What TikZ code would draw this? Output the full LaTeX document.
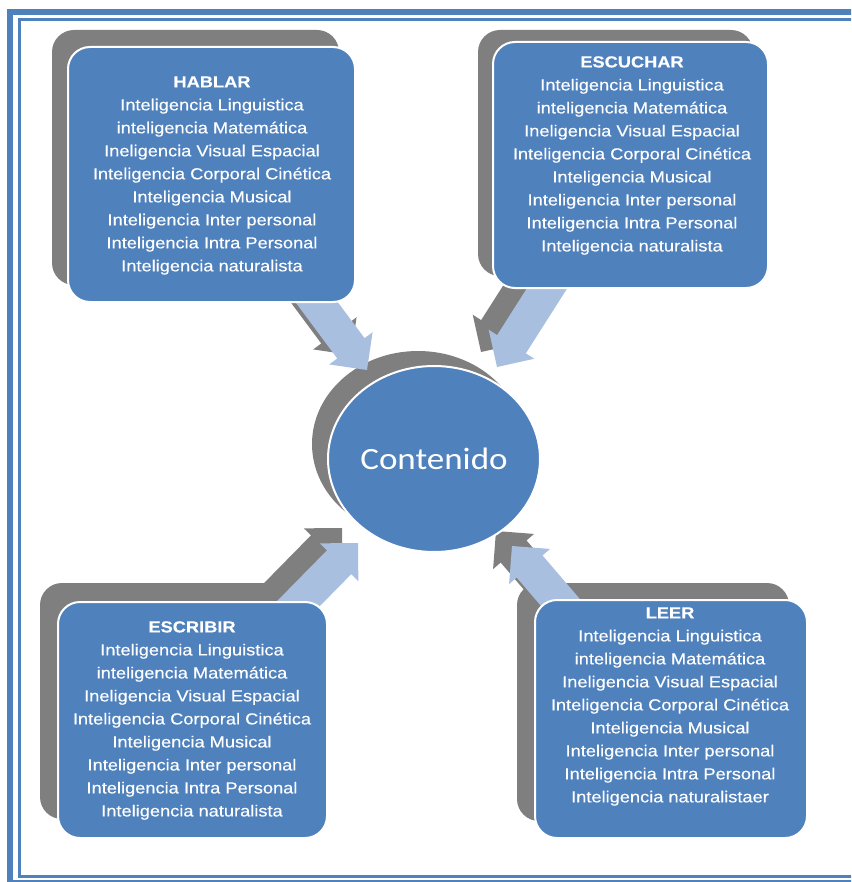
\documentclass[tikz,border=0pt]{standalone}
\usepackage{fontspec}
\usetikzlibrary{calc,shapes.geometric}
\newfontfamily\boxfont[FakeStretch=1.14,FakeBold=0.3]{Liberation Sans}
\newfontfamily\circfont[FakeStretch=1.13]{Carlito}
\definecolor{boxblue}{HTML}{4F81BD}
\definecolor{shadowgray}{HTML}{7F7F7F}
\definecolor{arrowblue}{HTML}{A9BFDF}
\definecolor{frameblue}{HTML}{4F81BD}
\newcommand{\blkarrow}[3]{%
  \coordinate (bkH) at ($(#2)!27pt!(#1)$);
  \fill[#3] ($(#1)!17pt!90:(#2)$) -- ($(bkH)!17pt!90:(#2)$) -- ($(bkH)!27pt!90:(#2)$)
    -- (#2) -- ($(bkH)!27pt!-90:(#2)$) -- ($(bkH)!17pt!-90:(#2)$) -- ($(#1)!17pt!-90:(#2)$) -- cycle;}
\newcommand{\mylist}[2]{\textbf{#1}\\Inteligencia Linguistica\\inteligencia Matemática\\Ineligencia Visual Espacial\\Inteligencia Corporal Cinética\\Inteligencia Musical\\Inteligencia Inter personal\\Inteligencia Intra Personal\\Inteligencia #2}
\tikzset{
  bluebox/.style={draw=white, line width=2pt, fill=boxblue, rounded corners=22pt, inner sep=0pt},
  graybox/.style={fill=shadowgray, rounded corners=22pt, inner sep=0pt},
  boxtext/.style={text=white, align=center, inner sep=0pt, font=\boxfont\fontsize{16}{23}\selectfont},
  circtext/.style={text=white, font=\circfont\fontsize{31}{36}\selectfont},
}
\begin{document}
\begin{tikzpicture}[x=1pt,y=-1pt]
\useasboundingbox (0,0) rectangle (851,882);
\clip (0,0) rectangle (851,882);
% frame: left, top and bottom sides only (right side lies outside the picture)
\draw[frameblue, line width=6.5pt] (880,12) -- (10,12) -- (10,883) -- (880,883);
\draw[frameblue, line width=3pt] (880,20) -- (19.5,20) -- (19.5,876.5) -- (880,876.5);
% arrow coordinates
\coordinate (a1t) at (289,265);   \coordinate (a1p) at (367,370);
\coordinate (a2t) at (570.5,251.5); \coordinate (a2p) at (497,367);
\coordinate (a3t) at (274,628.5); \coordinate (a3p) at (358,543);
\coordinate (a4t) at (584,630);   \coordinate (a4p) at (512,546);
\foreach \i in {1,2,3,4}{
  \coordinate (a\i ts) at ($(a\i t)+(-16,-15)$);
  \coordinate (a\i ps) at ($(a\i p)+(-16,-15)$);
}
% shadows
\node[graybox, minimum width=287pt, minimum height=255pt] (hablarS) at (195.5,157.5) {};
\node[graybox, minimum width=275pt, minimum height=246pt] (escucharS) at (615.5,153) {};
\node[graybox, minimum width=269pt, minimum height=236pt] (escribirS) at (174.5,701) {};
\node[graybox, minimum width=272pt, minimum height=238pt] (leerS) at (653,702) {};
\node[ellipse, fill=shadowgray, minimum width=212pt, minimum height=186pt, inner sep=0pt] (contS) at (418,444) {};
\blkarrow{a1ts}{a1ps}{shadowgray}
\blkarrow{a2ts}{a2ps}{shadowgray}
\blkarrow{a3ts}{a3ps}{shadowgray}
\blkarrow{a4ts}{a4ps}{shadowgray}
% light arrows
\blkarrow{a1t}{a1p}{arrowblue}
\blkarrow{a2t}{a2p}{arrowblue}
\blkarrow{a3t}{a3p}{arrowblue}
\blkarrow{a4t}{a4p}{arrowblue}
% main shapes
\node[bluebox, minimum width=287pt, minimum height=255pt] (hablar) at (211.5,174.5) {};
\node[bluebox, minimum width=275pt, minimum height=246pt] (escuchar) at (630.5,165) {};
\node[bluebox, minimum width=269pt, minimum height=236pt] (escribir) at (192.5,720) {};
\node[bluebox, minimum width=272pt, minimum height=238pt] (leer) at (671,719) {};
\node[ellipse, fill=boxblue, draw=white, line width=2pt, minimum width=212pt, minimum height=186pt, inner sep=0pt, circtext] (cont) at (434,459) {Contenido};
% texts
\node[boxtext] (hablarT) at (212,175.5) {\mylist{HABLAR}{naturalista}};
\node[boxtext] (escucharT) at (632,155.5) {\mylist{ESCUCHAR}{naturalista}};
\node[boxtext] (escribirT) at (192,720.5) {\mylist{ESCRIBIR}{naturalista}};
\node[boxtext] (leerT) at (670,706.5) {\mylist{LEER}{naturalistaer}};
\end{tikzpicture}
\end{document}
